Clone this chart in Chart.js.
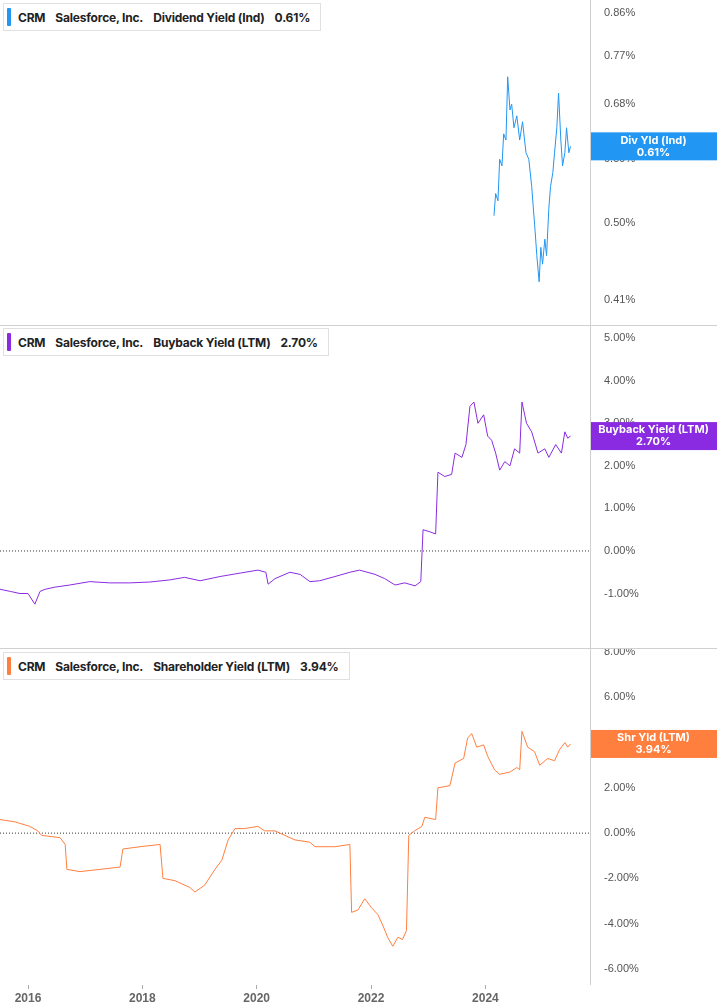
<!DOCTYPE html>
<html>
<head>
<meta charset="utf-8">
<script src="https://cdn.jsdelivr.net/npm/chart.js@4"></script>
<style>
  body { margin: 0; background: #fff; font-family: Inter, "Noto Sans", sans-serif; }
  .wrap { position: relative; width: 717px; height: 1005px; overflow: hidden; }
  .pane { position: absolute; left: 0; width: 717px; }
  .sep { position: absolute; left: 0; width: 717px; height: 1px; background: #d0d0d0; }
  .vline { position: absolute; left: 590px; top: 0; width: 1px; height: 985px; background: #d0d0d0; }
  .legend { position: absolute; left: 3px; height: 26px; border: 1px solid #e0e0e0; background: #fff;
            font-size: 12px; font-weight: 700; color: #222; display: flex; align-items: center; padding-right: 10px; letter-spacing: -0.2px; }
  .legend i { display: inline-block; width: 4px; height: 18px; margin: 0 7px 0 3px; border-radius: 1px; }
  .legend span { margin-right: 10px; }
</style>
</head>
<body>
<div class="wrap">
  <div class="pane" style="top:0;height:325px"><canvas id="c1"></canvas></div>
  <div class="pane" style="top:325px;height:323px"><canvas id="c2"></canvas></div>
  <div class="pane" style="top:648px;height:357px"><canvas id="c3"></canvas></div>
  <div class="sep" style="top:325px"></div>
  <div class="sep" style="top:648px"></div>
  <div class="vline"></div>
  <div class="legend" style="top:3px"><i style="background:#2196f3"></i><span>CRM</span><span>Salesforce, Inc.</span><span>Dividend Yield (Ind)</span><span style="margin-right:0">0.61%</span></div>
  <div class="legend" style="top:328px"><i style="background:#8a2be2"></i><span>CRM</span><span>Salesforce, Inc.</span><span>Buyback Yield (LTM)</span><span style="margin-right:0">2.70%</span></div>
  <div class="legend" style="top:652px"><i style="background:#ff7f3f"></i><span>CRM</span><span>Salesforce, Inc.</span><span>Shareholder Yield (LTM)</span><span style="margin-right:0">3.94%</span></div>
</div>
<script>
// x range in decimal years
const xMin = 2015.51, xMax = 2025.83;
const yearTicks = [2016, 2018, 2020, 2022, 2024];

// Dividend Yield (Ind), %
const divDates = [2024.15, 2024.18, 2024.22, 2024.25, 2024.29, 2024.32, 2024.36, 2024.39, 2024.43, 2024.46, 2024.50, 2024.55, 2024.60, 2024.65, 2024.71, 2024.76, 2024.81, 2024.87, 2024.90, 2024.94, 2024.97, 2025.00, 2025.04, 2025.07, 2025.11, 2025.14, 2025.18, 2025.21, 2025.25, 2025.28, 2025.32, 2025.35, 2025.39, 2025.42, 2025.46, 2025.49];
const divValues = [0.51, 0.54, 0.53, 0.59, 0.58, 0.63, 0.62, 0.73, 0.67, 0.68, 0.64, 0.66, 0.62, 0.65, 0.60, 0.59, 0.55, 0.49, 0.46, 0.43, 0.47, 0.45, 0.48, 0.46, 0.52, 0.55, 0.57, 0.60, 0.64, 0.70, 0.62, 0.58, 0.60, 0.64, 0.60, 0.61];

// Buyback Yield (LTM), %
const buyDates = [2015.51, 2015.69, 2015.86, 2016.00, 2016.12, 2016.21, 2016.30, 2016.47, 2016.73, 2017.08, 2017.43, 2017.78, 2018.13, 2018.48, 2018.74, 2019.01, 2019.36, 2019.71, 2020.02, 2020.16, 2020.20, 2020.32, 2020.58, 2020.76, 2020.93, 2021.10, 2021.37, 2021.63, 2021.80, 2022.07, 2022.24, 2022.42, 2022.59, 2022.77, 2022.87, 2022.91, 2023.03, 2023.13, 2023.17, 2023.29, 2023.41, 2023.47, 2023.59, 2023.66, 2023.73, 2023.80, 2023.87, 2023.97, 2024.04, 2024.11, 2024.18, 2024.25, 2024.34, 2024.43, 2024.51, 2024.60, 2024.64, 2024.72, 2024.81, 2024.92, 2025.04, 2025.11, 2025.23, 2025.33, 2025.39, 2025.44, 2025.49];
const buyValues = [-0.9, -0.95, -1.0, -1.0, -1.25, -0.95, -0.9, -0.85, -0.8, -0.72, -0.75, -0.75, -0.73, -0.68, -0.62, -0.7, -0.6, -0.52, -0.45, -0.5, -0.78, -0.65, -0.5, -0.55, -0.72, -0.7, -0.6, -0.5, -0.45, -0.55, -0.65, -0.8, -0.75, -0.82, -0.72, 0.5, 0.45, 0.4, 1.85, 1.75, 1.8, 2.3, 2.2, 2.5, 3.4, 3.5, 3.0, 3.2, 2.7, 2.6, 2.3, 1.9, 2.1, 2.0, 2.4, 2.3, 3.5, 3.0, 2.8, 2.3, 2.4, 2.2, 2.5, 2.3, 2.8, 2.65, 2.70];

// Shareholder Yield (LTM), %
const shrDates = [2015.51, 2015.77, 2016.03, 2016.17, 2016.24, 2016.56, 2016.65, 2016.68, 2016.91, 2017.26, 2017.61, 2017.66, 2017.96, 2018.31, 2018.36, 2018.57, 2018.83, 2018.92, 2019.09, 2019.27, 2019.39, 2019.50, 2019.62, 2019.79, 2020.02, 2020.14, 2020.32, 2020.58, 2020.67, 2020.93, 2021.02, 2021.37, 2021.63, 2021.66, 2021.77, 2021.89, 2022.01, 2022.12, 2022.21, 2022.29, 2022.38, 2022.47, 2022.55, 2022.62, 2022.66, 2022.76, 2022.89, 2022.94, 2023.13, 2023.17, 2023.38, 2023.47, 2023.62, 2023.69, 2023.76, 2023.85, 2023.97, 2024.04, 2024.16, 2024.25, 2024.43, 2024.55, 2024.60, 2024.64, 2024.74, 2024.86, 2024.95, 2025.09, 2025.21, 2025.30, 2025.39, 2025.44, 2025.49];
const shrValues = [0.6, 0.5, 0.3, 0.1, -0.1, -0.2, -0.5, -1.6, -1.7, -1.6, -1.5, -0.7, -0.6, -0.5, -2.0, -2.1, -2.4, -2.6, -2.3, -1.6, -1.2, -0.3, 0.2, 0.2, 0.3, 0.1, 0.1, -0.2, -0.3, -0.4, -0.6, -0.6, -0.5, -3.5, -3.4, -2.9, -3.3, -3.6, -4.1, -4.6, -5.0, -4.6, -4.7, -4.3, -0.1, 0.1, 0.3, 0.7, 0.6, 2.0, 2.1, 3.1, 3.3, 4.2, 4.4, 3.8, 3.9, 3.4, 2.8, 2.6, 2.7, 2.9, 2.8, 4.5, 3.8, 3.6, 3.0, 3.3, 3.2, 3.7, 4.0, 3.8, 3.94];

// y tick labels per panel
const divTicks = [0.41, 0.50, 0.59, 0.68, 0.77, 0.86];
const buyTicks = [-1, 0, 1, 2, 3, 4, 5];
const shrTicks = [-6, -4, -2, 0, 2, 4, 6, 8];

function points(xs, ys) { return xs.map((x, i) => ({ x: x, y: ys[i] })); }

// tag on the right with the last value
function tagPlugin(color, title, text) {
  return {
    id: 'tag',
    afterDraw(chart) {
      const ctx = chart.ctx;
      const ds = chart.data.datasets[0].data;
      const y = chart.scales.y.getPixelForValue(ds[ds.length - 1].y);
      const left = chart.chartArea.right;
      ctx.save();
      ctx.fillStyle = color;
      ctx.fillRect(left, y - 14, chart.width - left, 28);
      ctx.fillStyle = '#fff';
      ctx.font = 'bold 11px Inter, sans-serif';
      ctx.textAlign = 'center';
      ctx.textBaseline = 'middle';
      const cx = left + (chart.width - left) / 2;
      ctx.fillText(title, cx, y - 6);
      ctx.fillText(text, cx, y + 6);
      ctx.restore();
    }
  };
}

// dotted zero line
const zeroLine = {
  id: 'zero',
  beforeDatasetsDraw(chart) {
    const y = chart.scales.y.getPixelForValue(0);
    const ctx = chart.ctx;
    ctx.save();
    ctx.strokeStyle = '#333';
    ctx.lineWidth = 1;
    ctx.setLineDash([1, 2]);
    ctx.beginPath();
    ctx.moveTo(chart.chartArea.left, y);
    ctx.lineTo(chart.chartArea.right, y);
    ctx.stroke();
    ctx.restore();
  }
};

function makeChart(id, color, data, yType, yMin, yMax, ticks, fmt, showX, plugins) {
  return new Chart(document.getElementById(id), {
    type: 'line',
    data: { datasets: [{ data: data, borderColor: color, borderWidth: 1, pointRadius: 0, tension: 0 }] },
    options: {
      responsive: true,
      maintainAspectRatio: false,
      animation: false,
      layout: { padding: 0 },
      plugins: { legend: { display: false }, tooltip: { enabled: false } },
      scales: {
        x: {
          type: 'linear', min: xMin, max: xMax, display: showX,
          afterBuildTicks: s => { s.ticks = yearTicks.map(v => ({ value: v })); },
          afterFit: s => { s.height = 20; },
          grid: { display: true, drawOnChartArea: false, drawTicks: true, tickLength: 4, color: '#aaa' },
          border: { display: false },
          ticks: { color: '#666', font: { size: 12, weight: 'bold' }, padding: 2, maxRotation: 0, callback: v => String(v) }
        },
        y: {
          type: yType, min: yMin, max: yMax,
          position: 'right',
          afterBuildTicks: s => { s.ticks = ticks.map(v => ({ value: v })); },
          afterFit: s => { s.width = 127; s.paddingTop = 0; s.paddingBottom = 0; },
          grid: { display: false },
          border: { display: false },
          ticks: { color: '#555', font: { size: 11 }, padding: 6, callback: fmt }
        }
      }
    },
    plugins: plugins
  });
}

const pct = v => Number(v).toFixed(2) + '%';

makeChart('c1', '#2196f3', points(divDates, divValues), 'logarithmic', 0.405, 0.89, divTicks, pct, false,
  [tagPlugin('#2196f3', 'Div Yld (Ind)', '0.61%')]);

makeChart('c2', '#8a2be2', points(buyDates, buyValues), 'linear', -1.81, 5.31, buyTicks, pct, false,
  [zeroLine, tagPlugin('#8a2be2', 'Buyback Yield (LTM)', '2.70%')]);

makeChart('c3', '#ff7f3f', points(shrDates, shrValues), 'linear', -6.71, 8.18, shrTicks, pct, true,
  [zeroLine, tagPlugin('#ff7f3f', 'Shr Yld (LTM)', '3.94%')]);
</script>
</body>
</html>
